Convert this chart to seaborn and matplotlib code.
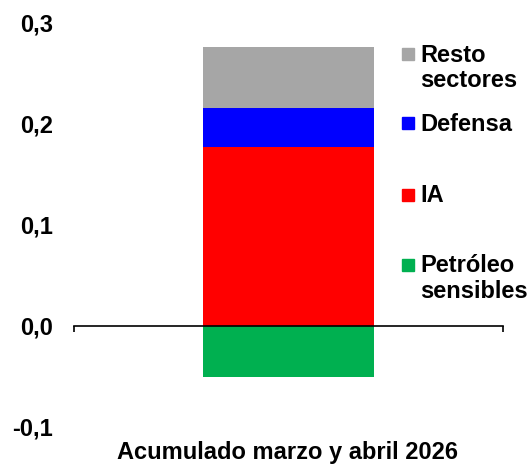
import matplotlib
matplotlib.use('Agg')
import matplotlib.pyplot as plt
import seaborn as sns
from matplotlib.ticker import FuncFormatter
from matplotlib.patches import Rectangle

# Datos
categoria = ['Acumulado marzo y abril 2026']
petroleo = [-0.051]
ia = [0.177]
defensa = [0.038]
resto = [0.060]

series = ['Resto\nsectores', 'Defensa', 'IA', 'Petróleo\nsensibles']
colores = ['#A6A6A6', '#0000FF', '#FF0000', '#00B050']

sns.set_style('white')
plt.rcParams['font.family'] = ['Liberation Sans', 'DejaVu Sans']
plt.rcParams['font.weight'] = 'bold'
plt.rcParams['text.color'] = 'black'
plt.rcParams['ytick.color'] = 'black'

fig = plt.figure(figsize=(5.31, 4.67), dpi=100)
ax = fig.add_axes([0.139, 0.0857, 0.808, 0.867])

base_resto = [a + b for a, b in zip(ia, defensa)]

opts = dict(width=0.4, ax=ax, saturation=1, linewidth=0)
sns.barplot(x=categoria, y=petroleo, color=colores[3], **opts)
sns.barplot(x=categoria, y=ia, color=colores[2], **opts)
sns.barplot(x=categoria, y=defensa, bottom=ia, color=colores[1], **opts)
sns.barplot(x=categoria, y=resto, bottom=base_resto, color=colores[0], **opts)

ax.set_xlim(-0.5, 0.5)
ax.set_ylim(-0.1, 0.3)
ax.set_yticks([-0.1, 0.0, 0.1, 0.2, 0.3])
ax.yaxis.set_major_formatter(FuncFormatter(lambda v, p: f'{v:.1f}'.replace('.', ',')))
ax.tick_params(axis='y', length=0, pad=15, labelsize=17, labelcolor='black')
for lab in ax.get_yticklabels():
    lab.set_fontweight('bold')

for s in ['left', 'right', 'top']:
    ax.spines[s].set_visible(False)
ax.spines['bottom'].set_position(('data', 0))
ax.spines['bottom'].set_color('black')
ax.spines['bottom'].set_linewidth(1.2)
ax.set_xticks([-0.5, 0.5])
ax.set_xticklabels(['', ''])
ax.tick_params(axis='x', direction='out', length=4, width=1.2, color='black', bottom=True)
ax.set_xlabel('')
ax.set_ylabel('')

fig.text(0.5415, 1 - 453 / 467, categoria[0], ha='center', va='center',
         fontsize=17, fontweight='bold')

# Leyenda manual
centros = [53.5, 123, 194.5, 264.5]
for nombre, col, yc in zip(series, colores, centros):
    fig.patches.append(Rectangle((402 / 531, 1 - (yc + 6) / 467), 12 / 531, 12 / 467,
                                 transform=fig.transFigure, color=col, figure=fig))
    fig.text(420 / 531, 1 - (yc - 10) / 467, nombre, ha='left', va='top',
             fontsize=17, fontweight='bold', linespacing=1.15)

fig.savefig('out.png', dpi=100)
